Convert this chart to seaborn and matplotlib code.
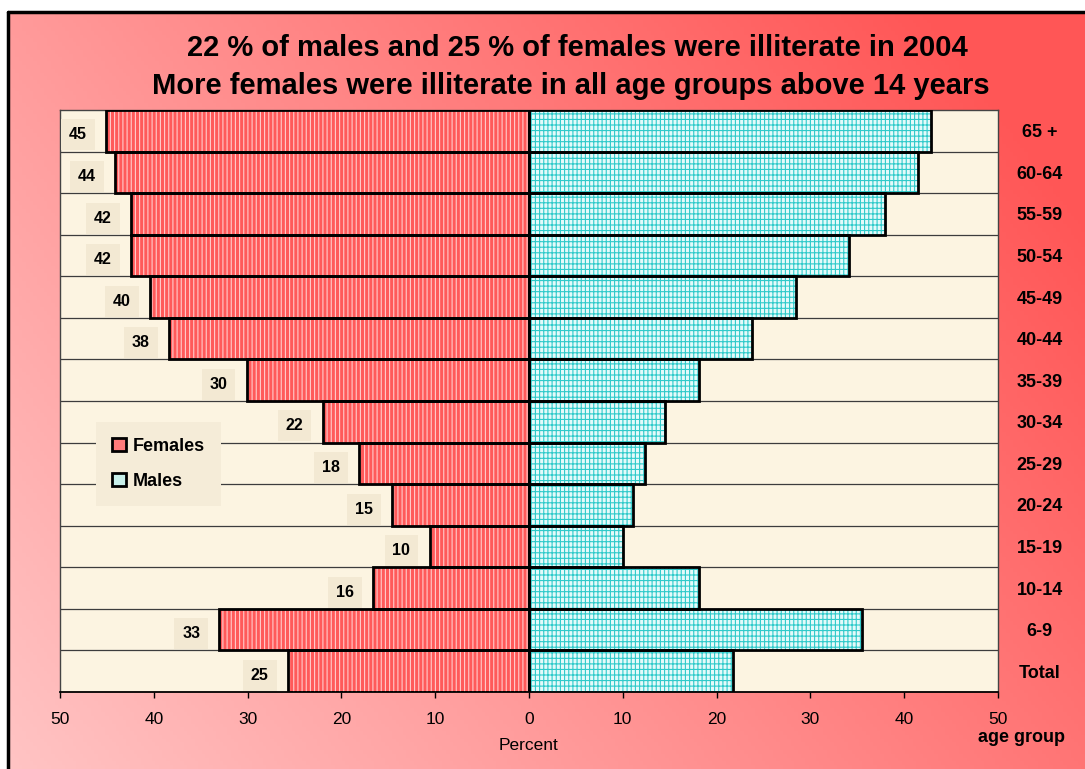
"""Illiteracy by age group and sex in 2004, drawn as a back-to-back bar chart."""

import matplotlib

matplotlib.use("Agg")
import matplotlib.pyplot as plt
import numpy as np
import pandas as pd
import seaborn as sns
from matplotlib.lines import Line2D
from matplotlib.patches import Patch, Rectangle

AGE_GROUPS = ["65 +", "60-64", "55-59", "50-54", "45-49", "40-44", "35-39",
              "30-34", "25-29", "20-24", "15-19", "10-14", "6-9", "Total"]
FEMALES = [45.1, 44.1, 42.4, 42.4, 40.4, 38.4, 30.1, 22.0, 18.1, 14.6, 10.6, 16.6, 33.0, 25.7]
MALES = [42.9, 41.5, 37.9, 34.1, 28.5, 23.8, 18.1, 14.5, 12.4, 11.1, 10.0, 18.1, 35.5, 21.8]
FEMALE_LABELS = [45, 44, 42, 42, 40, 38, 30, 22, 18, 15, 10, 16, 33, 25]
X_TICKS = [-50, -40, -30, -20, -10, 0, 10, 20, 30, 40, 50]
X_TICK_LABELS = ["50", "40", "30", "20", "10", "0", "10", "20", "30", "40", "50"]
TITLE_LINES = ["22 % of males and 25 % of females were illiterate in 2004",
               "More females were illiterate in all age groups above 14 years"]

W, H = 1085, 769

sns.set_style("white")
plt.rcParams["font.family"] = ["Liberation Sans", "DejaVu Sans"]
plt.rcParams["hatch.linewidth"] = 0.8
for key in ["text.color", "axes.labelcolor", "xtick.color", "ytick.color"]:
    plt.rcParams[key] = "black"


def _background(fig):
    bg = fig.add_axes([0, 0, 1, 1], zorder=-10)
    xx, yy = np.meshgrid(np.linspace(0, 1, 300), np.linspace(1, 0, 200))
    s = np.clip(0.72 * xx + 0.38 * yy, 0, 1)
    light = np.array([255, 196, 196]) / 255
    dark = np.array([255, 86, 86]) / 255
    img = light + s[..., None] * (dark - light)
    bg.imshow(img, extent=[8 / W, 1, 0, 757 / H], aspect="auto", origin="upper")
    bg.set_xlim(0, 1)
    bg.set_ylim(0, 1)
    bg.axis("off")
    fig.add_artist(Line2D([8 / W, 1], [757 / H, 757 / H], color="black", lw=2.5,
                          transform=fig.transFigure))
    fig.add_artist(Line2D([8 / W, 8 / W], [0, 757 / H], color="black", lw=2.5,
                          transform=fig.transFigure))


def _decorate(ax, patches, face_hatch, hatch_color):
    for p in patches:
        xy, w, h = p.get_xy(), p.get_width(), p.get_height()
        ax.add_patch(Rectangle(xy, w, h, fill=False, hatch=face_hatch,
                               edgecolor=hatch_color, lw=0, zorder=3))
        ax.add_patch(Rectangle(xy, w, h, fill=False, edgecolor="black",
                               lw=2.0, zorder=4))


fig = plt.figure(figsize=(W / 100, H / 100), dpi=100)
fig.patch.set_facecolor("white")
_background(fig)

ax = fig.add_axes([60 / W, 77 / H, 938 / W, 582 / H])
ax.set_facecolor("#fcf4e1")

df = pd.DataFrame({"age": AGE_GROUPS, "females": FEMALES, "males": MALES})

sns.barplot(x=-df["females"], y=df["age"], orient="h", color="#ff5a5a",
            saturation=1, width=1.0, linewidth=0, ax=ax, zorder=2)
n_f = len(ax.patches)
sns.barplot(x=df["males"], y=df["age"], orient="h", color="#e4fafa",
            saturation=1, width=1.0, linewidth=0, ax=ax, zorder=2)
bars = list(ax.patches)
_decorate(ax, bars[:n_f], "||||", "#ffcccc")
_decorate(ax, bars[n_f:], "||||---", "#2fcaca")

for y in np.arange(0.5, len(AGE_GROUPS) - 0.5):
    ax.axhline(y, color="#3c3c3c", lw=0.9, zorder=1)

for i, (v, lab) in enumerate(zip(FEMALES, FEMALE_LABELS)):
    ax.text(-(v + 3.0), i + 0.1, str(lab), ha="center", va="center", fontsize=11.5,
            fontweight="bold", zorder=5, clip_on=False,
            bbox=dict(boxstyle="square,pad=0.5", fc="#f3e9d3", ec="none"))

ax.set_xlim(-50, 50)
ax.set_ylim(len(AGE_GROUPS) - 0.5, -0.5)
ax.set_xticks(X_TICKS, X_TICK_LABELS, fontsize=12.5)
ax.tick_params(axis="x", length=4.5, width=1, color="black", direction="out",
               pad=10, bottom=True)
ax.yaxis.tick_right()
ax.set_yticks(range(len(AGE_GROUPS)), AGE_GROUPS, fontsize=13,
              fontweight="bold", ha="center")
ax.tick_params(axis="y", length=0, pad=30)
ax.set_ylabel("")
ax.set_xlabel("Percent", fontsize=12.5, labelpad=8)

for side in ["left", "right", "top"]:
    ax.spines[side].set_color("#444444")
    ax.spines[side].set_linewidth(1.0)
ax.spines["bottom"].set_color("black")
ax.spines["bottom"].set_linewidth(1.3)

handles = [Patch(facecolor="#ff7b7b", edgecolor="black", lw=2, label="Females"),
           Patch(facecolor="#c8f0ea", edgecolor="black", lw=2, label="Males")]
ax.legend(handles=handles, loc="center", bbox_to_anchor=(0.105, 0.392),
          frameon=True, facecolor="#f5ecd8", edgecolor="none", framealpha=1,
          fancybox=False, handlelength=0.75, handleheight=0.75,
          handletextpad=0.4, labelspacing=1.0, borderpad=0.9,
          prop={"weight": "bold", "size": 13})

fig.text(577 / W, 1 - 48 / H, TITLE_LINES[0], ha="center", va="center",
         fontsize=21, fontweight="bold")
fig.text(571 / W, 1 - 86 / H, TITLE_LINES[1], ha="center", va="center",
         fontsize=21, fontweight="bold")
fig.text(1022 / W, 1 - 738 / H, "age group", ha="center", va="center",
         fontsize=13, fontweight="bold")

fig.savefig("out.png", dpi=100)
